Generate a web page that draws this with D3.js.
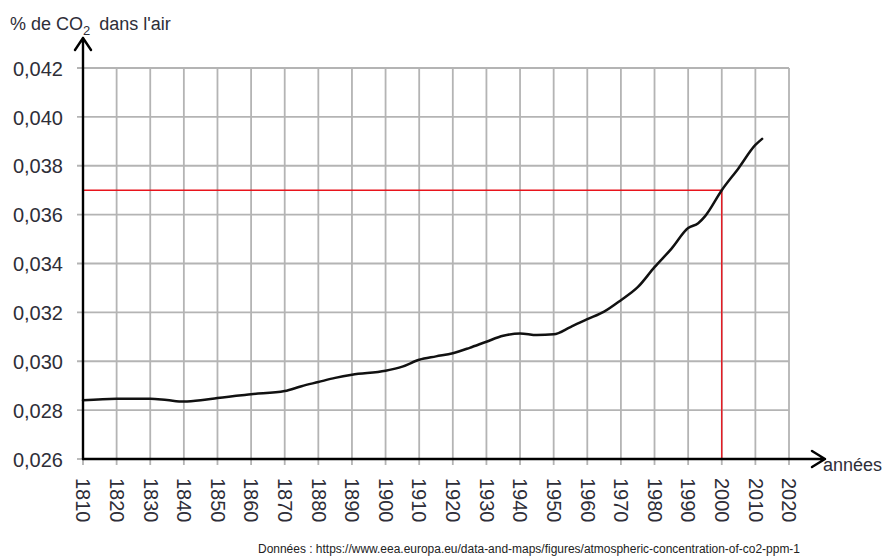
<!DOCTYPE html>
<html>
<head>
<meta charset="utf-8">
<script src="https://cdn.jsdelivr.net/npm/d3@7"></script>
<style>
  html, body { margin: 0; padding: 0; background: #fff; }
  svg { display: block; font-family: "Liberation Sans", Arial, sans-serif; }
</style>
</head>
<body>
<svg id="chart" width="885" height="559"></svg>
<script>
// Atmospheric CO2 concentration (% of air), 1810-2012
const years = [1810, 1820, 1830, 1835, 1840, 1845, 1850, 1860, 1870, 1875, 1880, 1885,
               1890, 1900, 1905, 1910, 1915, 1920, 1925, 1930, 1935, 1940, 1945, 1950,
               1955, 1960, 1965, 1970, 1975, 1980, 1985, 1990, 1993, 1995, 2000, 2005,
               2010, 2012];
const co2 = [0.02840, 0.02847, 0.02847, 0.02841, 0.02835, 0.02840, 0.02850, 0.02865,
             0.02878, 0.02898, 0.02915, 0.02932, 0.02945, 0.02961, 0.02978, 0.03006,
             0.03020, 0.03033, 0.03055, 0.03080, 0.03104, 0.03114, 0.03107, 0.03110,
             0.03140, 0.03172, 0.03203, 0.03250, 0.03303, 0.03385, 0.03460, 0.03545,
             0.03565, 0.03593, 0.03700, 0.03790, 0.03885, 0.03910];

// Axis ticks
const xTicks = [1810, 1820, 1830, 1840, 1850, 1860, 1870, 1880, 1890, 1900, 1910,
                1920, 1930, 1940, 1950, 1960, 1970, 1980, 1990, 2000, 2010, 2020];
const yTicks = [0.026, 0.028, 0.030, 0.032, 0.034, 0.036, 0.038, 0.040, 0.042];

// Reading guide (red lines)
const refYear = [2000];
const refValue = [0.037];

const svg = d3.select("#chart");

const x = d3.scaleLinear().domain([1810, 2020]).range([83, 789]);
const y = d3.scaleLinear().domain([0.026, 0.042]).range([459, 68]);

const gridColor = "#b4b4b4";
const textColor = "#2e2e38";

// Grid
const grid = svg.append("g");
grid.selectAll("line.v")
  .data(xTicks.slice(1))
  .join("line")
  .attr("class", "v")
  .attr("x1", d => x(d)).attr("x2", d => x(d))
  .attr("y1", y(0.042)).attr("y2", y(0.026) + 6)
  .attr("stroke", gridColor).attr("stroke-width", 1.8);
grid.append("line")
  .attr("x1", x(1810)).attr("x2", x(1810))
  .attr("y1", y(0.026)).attr("y2", y(0.026) + 6)
  .attr("stroke", gridColor).attr("stroke-width", 1.8);
grid.selectAll("line.h")
  .data(yTicks)
  .join("line")
  .attr("class", "h")
  .attr("x1", x(1810) - 6).attr("x2", d => d === 0.026 ? x(1810) : x(2020))
  .attr("y1", d => y(d)).attr("y2", d => y(d))
  .attr("stroke", gridColor).attr("stroke-width", 1.8);

// Red reading guide
svg.append("path")
  .attr("d", `M${x(1810)},${y(refValue[0])}H${x(refYear[0])}V${y(0.026)}`)
  .attr("fill", "none")
  .attr("stroke", "#e8141c")
  .attr("stroke-width", 1.4);

// Y tick labels (axis with decimal comma)
const yAxis = d3.axisLeft(y)
  .tickValues(yTicks)
  .tickSize(0)
  .tickPadding(0)
  .tickFormat(d => d3.format(".3f")(d).replace(".", ","));
const gy = svg.append("g")
  .attr("transform", `translate(63,0)`)
  .call(yAxis);
gy.select(".domain").remove();
gy.selectAll("text")
  .attr("font-size", 20)
  .attr("font-family", "Liberation Sans, Arial, sans-serif")
  .attr("fill", textColor)
  .attr("dy", "0.36em");

// X tick labels rotated a quarter turn
const xAxis = d3.axisBottom(x)
  .tickValues(xTicks)
  .tickSize(0)
  .tickFormat(d3.format("d"));
const gx = svg.append("g")
  .attr("transform", `translate(0,${y(0.026)})`)
  .call(xAxis);
gx.select(".domain").remove();
gx.selectAll("text")
  .attr("font-size", 20)
  .attr("font-family", "Liberation Sans, Arial, sans-serif")
  .attr("fill", textColor)
  .attr("text-anchor", "start")
  .attr("x", 19)
  .attr("y", 0)
  .attr("dy", "0.36em")
  .attr("transform", "rotate(90)");

// Curve
const line = d3.line()
  .x((d, i) => x(years[i]))
  .y(d => y(d))
  .curve(d3.curveMonotoneX);
svg.append("path")
  .datum(co2)
  .attr("d", line)
  .attr("fill", "none")
  .attr("stroke", "#111")
  .attr("stroke-width", 2.5)
  .attr("stroke-linejoin", "round")
  .attr("stroke-linecap", "round");

// Axes with arrows
const axes = svg.append("g")
  .attr("fill", "none")
  .attr("stroke", "#000")
  .attr("stroke-width", 2.4)
  .attr("stroke-linecap", "round")
  .attr("stroke-linejoin", "round");
axes.append("path")
  .attr("d", `M${x(1810)},${y(0.026)}V38M${x(1810) - 8},50L${x(1810)},38L${x(1810) + 8},50`);
axes.append("path")
  .attr("d", `M${x(1810)},${y(0.026)}H825M812,451L825,${y(0.026)}L812,467`);

// Axis titles
const title = svg.append("text")
  .attr("x", 10).attr("y", 30)
  .attr("font-size", 18)
  .attr("fill", textColor);
title.append("tspan").text("% de CO");
title.append("tspan").text("2").attr("font-size", 13).attr("dy", 5);
title.append("tspan").text("dans l'air").attr("dy", -5).attr("dx", 9);

svg.append("text")
  .attr("x", 823).attr("y", 471)
  .attr("font-size", 18)
  .attr("fill", textColor)
  .text("années");

// Data source
svg.append("text")
  .attr("x", 258).attr("y", 553)
  .attr("font-size", 12.5)
  .attr("font-family", "Liberation Sans Narrow, Arial Narrow, Liberation Sans, sans-serif")
  .attr("fill", "#222")
  .attr("textLength", 542)
  .attr("lengthAdjust", "spacingAndGlyphs")
  .text("Données : https://www.eea.europa.eu/data-and-maps/figures/atmospheric-concentration-of-co2-ppm-1");
</script>
</body>
</html>
